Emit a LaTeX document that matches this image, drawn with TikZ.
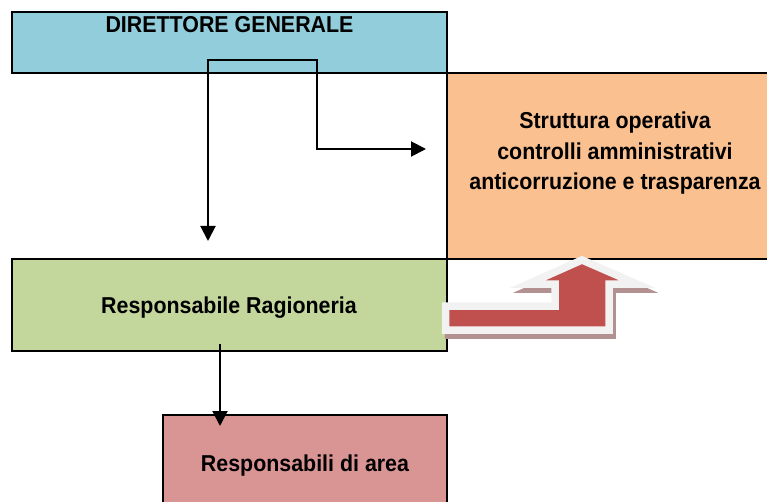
\documentclass[tikz,border=0pt]{standalone}
\usepackage{fontspec}
\setmainfont{Liberation Sans}[FakeStretch=0.93]
\usetikzlibrary{arrows.meta}
\definecolor{dgblue}{RGB}{146,205,220}
\definecolor{soorange}{RGB}{250,192,144}
\definecolor{rrgreen}{RGB}{195,214,155}
\definecolor{rapink}{RGB}{217,149,148}
\definecolor{arrred}{RGB}{192,80,77}
\definecolor{arroutline}{RGB}{242,242,242}
\definecolor{arrshadow}{RGB}{180,145,145}
\tikzset{
  box/.style={draw=black, line width=2pt, rectangle, inner sep=0pt},
  lbl/.style={font=\fontsize{23}{30}\selectfont\bfseries, inner sep=0pt, anchor=base},
  conn/.style={line width=2pt, line join=miter, -{Triangle[length=15pt,width=15pt]}},
  bentarrow/.style={line width=7.5pt, line join=miter, miter limit=20},
}
\begin{document}
\begin{tikzpicture}[x=1pt,y=-1pt]
\useasboundingbox (0,0) rectangle (767,502);
\clip (0,0) rectangle (767,502);
% boxes
\node[box, fill=dgblue, minimum width=435pt, minimum height=61pt] (dg) at (229.5,42.5) {};
\node[box, fill=soorange, minimum width=336pt, minimum height=186pt] (so) at (615,166) {};
\node[box, fill=rrgreen, minimum width=435pt, minimum height=92pt] (rr) at (229.5,305) {};
\node[box, fill=rapink, minimum width=284pt, minimum height=95pt] (ra) at (305,462.5) {};
% labels
\node[lbl] (dgt) at (229.5,33) {DIRETTORE GENERALE};
\node[lbl] (so1) at (615,129) {Struttura operativa};
\node[lbl] (so2) at (615,159.5) {controlli amministrativi};
\node[lbl] (so3) at (615,190) {anticorruzione e trasparenza};
\node[lbl] (rrt) at (229,313) {Responsabile Ragioneria};
\node[lbl] (rat) at (305,471) {Responsabili di area};
% connectors
\coordinate (jL) at (208,60);
\coordinate (jR) at (317,60);
\coordinate (bend) at (317,149);
\coordinate (xa) at (220,0);
\draw[conn, {Triangle[length=15pt,width=15pt]}-{Triangle[length=15pt,width=15pt]}, shorten <=20pt, shorten >=17pt]
  (bend -| so.west) -- (bend) -- (jR) -- (jL) -- (jL |- rr.north);
\draw[conn, shorten <=-8pt, shorten >=-12pt] (rr.south -| xa) -- (ra.north -| xa);
% bent-up arrow
\begin{scope}[shift={(3,5)}]
\draw[bentarrow, draw=arrshadow, fill=arrshadow]
  (445.5,306) -- (555,306) -- (555,284) -- (528,284) -- (582,260) -- (637,284) -- (609,284) -- (609,330) -- (445.5,330) -- cycle;
\end{scope}
\draw[bentarrow, draw=arroutline, fill=arrred]
  (445.5,306) -- (555,306) -- (555,284) -- (528,284) -- (582,260) -- (637,284) -- (609,284) -- (609,330) -- (445.5,330) -- cycle;
\end{tikzpicture}
\end{document}
